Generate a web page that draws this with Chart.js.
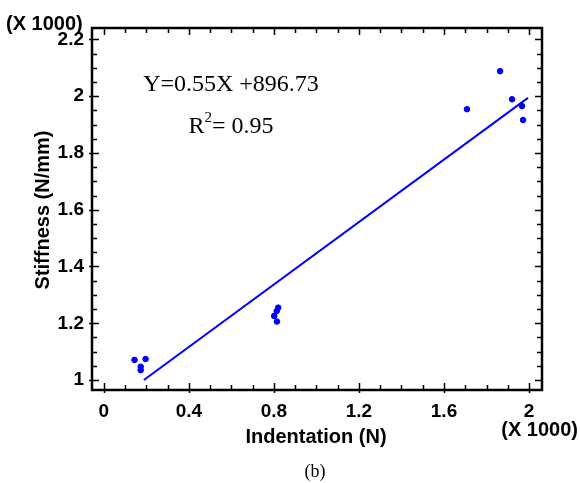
<!DOCTYPE html>
<html>
<head>
<meta charset="utf-8">
<script src="https://cdn.jsdelivr.net/npm/chart.js@4.4.1/dist/chart.umd.min.js"></script>
<style>
  html, body { margin: 0; padding: 0; background: #fff; }
</style>
</head>
<body>
<canvas id="stiffChart" width="580" height="483"></canvas>
<script>
// measured points (values in x1000)
const indentation = [0.144, 0.196, 0.173, 0.173, 0.801, 0.813, 0.820, 0.814, 1.708, 1.864, 1.920, 1.967, 1.972];
const stiffness   = [1.071, 1.074, 1.047, 1.035, 1.226, 1.243, 1.255, 1.206, 1.954, 2.088, 1.989, 1.965, 1.916];

// fitted line end points
const fitX = [0.188, 1.995];
const fitY = [1.000, 1.994];

const xTickValues = [0, 0.4, 0.8, 1.2, 1.6, 2];
const yTickValues = [1, 1.2, 1.4, 1.6, 1.8, 2, 2.2];

const blue = 'rgb(0,0,255)';
const sans = "'Liberation Sans', Arial, sans-serif";
const serif = "'Liberation Serif', 'Times New Roman', serif";

const scatterData = indentation.map((x, i) => ({ x: x, y: stiffness[i] }));
const lineData = fitX.map((x, i) => ({ x: x, y: fitY[i] }));

// frame, inward ticks and extra labels
const framePlugin = {
    id: 'frame',
    afterDraw(chart) {
        const ctx = chart.ctx;
        const a = chart.chartArea;
        const xs = chart.scales.x;
        const ys = chart.scales.y;
        ctx.save();
        ctx.strokeStyle = '#000';
        ctx.lineWidth = 1.5;
        // x ticks, every 0.1
        for (let i = 0; i <= 20; i++) {
            const v = i / 10;
            const px = Math.round(xs.getPixelForValue(v)) + 0.5;
            const major = i % 4 === 0;
            ctx.beginPath();
            ctx.moveTo(px, a.bottom + (major ? 3 : 0));
            ctx.lineTo(px, a.bottom - (major ? 7 : 5));
            ctx.moveTo(px, a.top);
            ctx.lineTo(px, a.top + (major ? 7 : 5));
            ctx.stroke();
        }
        // y ticks, every 0.05
        for (let i = 0; i <= 24; i++) {
            const v = 1 + i * 0.05;
            const py = Math.round(ys.getPixelForValue(v)) + 0.5;
            const major = i % 4 === 0;
            ctx.beginPath();
            ctx.moveTo(a.left - (major ? 3 : 0), py);
            ctx.lineTo(a.left + (major ? 7 : 5), py);
            ctx.moveTo(a.right, py);
            ctx.lineTo(a.right - (major ? 7 : 5), py);
            ctx.stroke();
        }
        ctx.lineWidth = 2.5;
        ctx.strokeRect(a.left, a.top, a.right - a.left, a.bottom - a.top);

        ctx.fillStyle = '#000';
        ctx.textBaseline = 'alphabetic';
        ctx.font = 'bold 20px ' + sans;
        ctx.textAlign = 'left';
        ctx.fillText('(X 1000)', 6, 30);
        ctx.textAlign = 'right';
        ctx.fillText('(X 1000)', 578, 436);

        // axis titles
        ctx.font = 'bold 20px ' + sans;
        ctx.textAlign = 'center';
        ctx.textBaseline = 'middle';
        ctx.fillText('Indentation (N)', 316, 437);
        ctx.save();
        ctx.translate(43, 210);
        ctx.rotate(-Math.PI / 2);
        ctx.fillText('Stiffness (N/mm)', 0, 0);
        ctx.restore();

        ctx.font = '18px ' + serif;
        ctx.fillText('(b)', 315, 472);

        // equation
        ctx.textBaseline = 'alphabetic';
        ctx.font = '24px ' + serif;
        ctx.fillText('Y=0.55X +896.73', 231, 91);
        ctx.textAlign = 'left';
        const r = 'R';
        const rest = '= 0.95';
        const wR = ctx.measureText(r).width;
        const wRest = ctx.measureText(rest).width;
        ctx.font = '15px ' + serif;
        const w2 = ctx.measureText('2').width;
        const sx = 231 - (wR + w2 + wRest) / 2;
        ctx.font = '24px ' + serif;
        ctx.fillText(r, sx, 133);
        ctx.font = '15px ' + serif;
        ctx.fillText('2', sx + wR, 122);
        ctx.font = '24px ' + serif;
        ctx.fillText(rest, sx + wR + w2, 133);
        ctx.restore();
    }
};

const ctx = document.getElementById('stiffChart').getContext('2d');
new Chart(ctx, {
    type: 'scatter',
    data: {
        datasets: [{
            data: scatterData,
            backgroundColor: blue,
            borderColor: blue,
            pointRadius: 2.8,
            pointHoverRadius: 2.8
        }, {
            data: lineData,
            showLine: true,
            borderColor: blue,
            borderWidth: 2,
            pointRadius: 0,
            fill: false
        }]
    },
    options: {
        responsive: false,
        animation: false,
        layout: { padding: { top: 28, right: 38, left: 0, bottom: 0 } },
        plugins: { legend: { display: false }, tooltip: { enabled: false } },
        scales: {
            x: {
                type: 'linear',
                min: -0.056,
                max: 2.061,
                grid: { display: false, drawTicks: false },
                border: { display: false },
                afterBuildTicks: s => { s.ticks = xTickValues.map(v => ({ value: v })); },
                afterFit: s => { s.height = 93; },
                ticks: {
                    padding: 10,
                    color: '#000',
                    font: { family: sans, size: 19, weight: 'bold' },
                    callback: v => String(v)
                }
            },
            y: {
                type: 'linear',
                min: 0.965,
                max: 2.24,
                grid: { display: false, drawTicks: false },
                border: { display: false },
                afterBuildTicks: s => { s.ticks = yTickValues.map(v => ({ value: v })); },
                afterFit: s => { s.width = 92; },
                ticks: {
                    padding: 8,
                    color: '#000',
                    font: { family: sans, size: 19, weight: 'bold' },
                    callback: v => String(v)
                }
            }
        }
    },
    plugins: [framePlugin]
});
</script>
</body>
</html>
